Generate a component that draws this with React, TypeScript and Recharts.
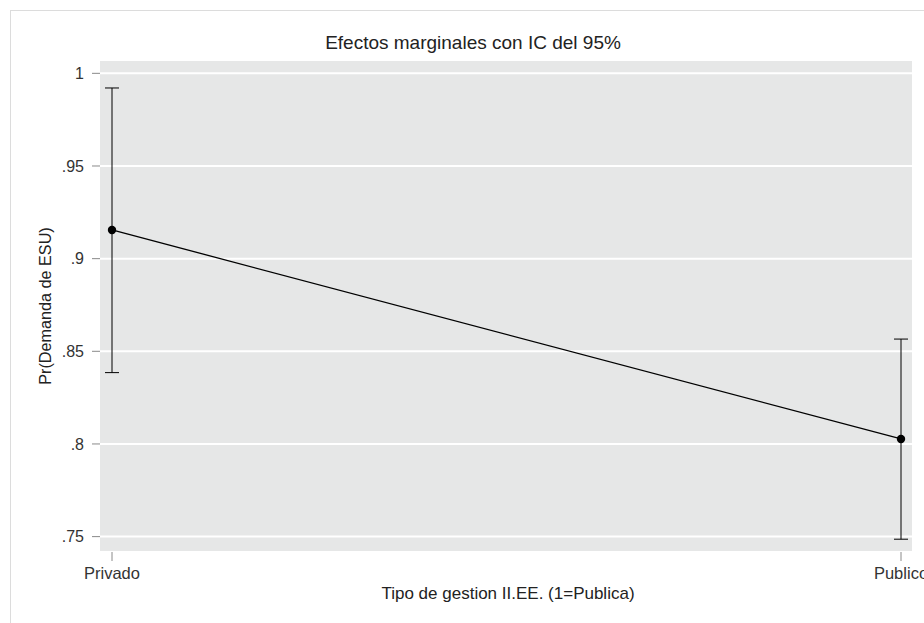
import React from 'react';
import { LineChart, Line, XAxis, YAxis, CartesianGrid, ErrorBar } from 'recharts';

// Predictive margins with 95% confidence intervals
const categories = ['Privado', 'Publico'];
const margins = [0.9155, 0.8027];
const ciLower = [0.8385, 0.7486];
const ciUpper = [0.9921, 0.8566];

const yTicks = [0.75, 0.8, 0.85, 0.9, 0.95, 1];
const yTickLabels = ['.75', '.8', '.85', '.9', '.95', '1'];

const title = 'Efectos marginales con IC del 95%';
const xTitle = 'Tipo de gestion II.EE. (1=Publica)';
const yTitle = 'Pr(Demanda de ESU)';

const data = categories.map((name, i) => ({
  name,
  margin: margins[i],
  ci: [margins[i] - ciLower[i], ciUpper[i] - margins[i]],
}));

const FONT = '"Liberation Sans", Arial, sans-serif';
const TEXT = '#333';

const formatY = (v: number) => {
  const idx = yTicks.findIndex((t) => Math.abs(t - v) < 1e-9);
  return idx >= 0 ? yTickLabels[idx] : String(v);
};

export default function App() {
  return (
    <div
      style={{
        position: 'absolute',
        left: 0,
        top: 0,
        width: 924,
        height: 623,
        background: '#fff',
        overflow: 'hidden',
        fontFamily: FONT,
      }}
    >
      {/* outer frame */}
      <div
        style={{
          position: 'absolute',
          left: 10,
          top: 10,
          width: 930,
          height: 630,
          borderTop: '1.5px solid #dcdcdc',
          borderLeft: '1.5px solid #dcdcdc',
        }}
      />
      <div style={{ position: 'absolute', left: 0, top: 0 }}>
        <LineChart
          width={924}
          height={623}
          data={data}
          margin={{ top: 60, right: 12, bottom: 31, left: 40 }}
        >
          <CartesianGrid
            vertical={false}
            horizontal
            fill="#e6e7e7"
            fillOpacity={1}
            stroke="#ffffff"
            strokeWidth={2}
            strokeDasharray=""
          />
          <XAxis
            dataKey="name"
            type="category"
            height={40}
            padding={{ left: 12, right: 11 }}
            axisLine={false}
            tickLine={{ stroke: '#8a8a8a', strokeWidth: 1 }}
            tickSize={9}
            tickMargin={6}
            tick={{ fill: TEXT, fontSize: 16.5, fontFamily: FONT }}
            interval={0}
          />
          <YAxis
            type="number"
            width={60}
            domain={[0.7417, 1.0072]}
            ticks={yTicks}
            tickFormatter={formatY}
            axisLine={false}
            tickLine={{ stroke: '#8a8a8a', strokeWidth: 1 }}
            tickSize={8}
            tickMargin={8}
            tick={{ fill: TEXT, fontSize: 16, fontFamily: FONT }}
            allowDataOverflow
          />
          <Line
            dataKey="margin"
            type="linear"
            stroke="#000"
            strokeWidth={1.3}
            isAnimationActive={false}
            dot={{ r: 4.2, fill: '#000', stroke: '#000', strokeWidth: 0 }}
            activeDot={false}
          >
            <ErrorBar
              dataKey="ci"
              direction="y"
              width={7}
              stroke="#000"
              strokeWidth={1}
              isAnimationActive={false}
            />
          </Line>
        </LineChart>
      </div>
      <div
        style={{
          position: 'absolute',
          left: 473,
          top: 42,
          transform: 'translate(-50%, -50%)',
          whiteSpace: 'nowrap',
          fontSize: 19,
          lineHeight: 1,
          color: '#222',
        }}
      >
        {title}
      </div>
      <div
        style={{
          position: 'absolute',
          left: 508,
          top: 593,
          transform: 'translate(-50%, -50%)',
          whiteSpace: 'nowrap',
          fontSize: 17,
          lineHeight: 1,
          color: '#222',
        }}
      >
        {xTitle}
      </div>
      <div
        style={{
          position: 'absolute',
          left: 45,
          top: 306,
          transform: 'translate(-50%, -50%) rotate(-90deg)',
          whiteSpace: 'nowrap',
          fontSize: 16.2,
          lineHeight: 1,
          color: '#222',
        }}
      >
        {yTitle}
      </div>
    </div>
  );
}
